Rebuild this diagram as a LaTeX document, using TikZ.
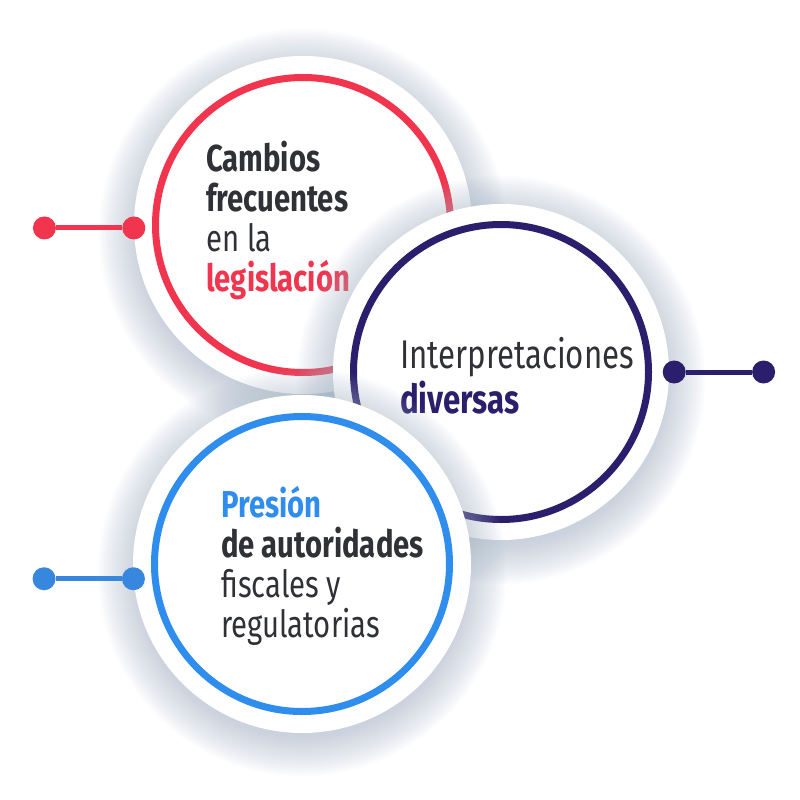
\documentclass[tikz,border=0pt]{standalone}
\usepackage{fontspec}
\setmainfont{Fira Sans}[FakeStretch=0.78]
\usepackage{tikz}
\usetikzlibrary{positioning}
\definecolor{mred}{HTML}{F1354F}
\definecolor{mnavy}{HTML}{2B1E6C}
\definecolor{mblue}{HTML}{2F8DEE}
\definecolor{mbluedot}{HTML}{3887DF}
\definecolor{mtext}{HTML}{2F3137}
\definecolor{mshadow}{HTML}{A9B9CA}
\tikzset{
  disc/.style={circle,fill=white,minimum size=338pt,inner sep=0},
  ring/.style={circle,draw=#1,line width=7pt,minimum size=295pt,inner sep=0},
  dot/.style={circle,fill=#1,minimum size=23pt,inner sep=0},
  link/.style={line width=5pt,draw=#1},
  ctext/.style={anchor=north west,align=left,inner sep=0,text=mtext,
    font=\fontsize{37.5}{40}\selectfont}
}
\newcommand{\discshadow}[1]{%
  \foreach \r in {162,164,...,204}{\fill[mshadow,fill opacity=0.035] #1 circle[radius=\r];}}

\begin{document}
\begin{tikzpicture}[x=1pt,y=-1pt]

  \fill[white] (0,0) rectangle (800,800);
  \useasboundingbox (0,0) rectangle (800,800);

  % Red circle
  \discshadow{(303,233)}
  \node[disc] (redDisc) at (303,225) {};
  \node[ring=mred] (redRing) at (redDisc) {};
  \node[ctext] (redText) at (206,141)
    {\textbf{Cambios}\\\textbf{frecuentes}\\en la\\\textbf{\color{mred}legislación}};
  \node[dot=mred] (redIn) at (redDisc.181) {};
  \node[dot=mred, left=66pt of redIn] (redOut) {};
  \draw[link=mred] (redOut) -- (redIn);

  % Navy circle
  \discshadow{(501,380)}
  \node[disc, minimum size=336pt] (navyDisc) at (501,372) {};
  \node[ring=mnavy] (navyRing) at (navyDisc) {};
  \node[ctext, font=\fontsize{40}{45}\selectfont] (navyText) at (400,337)
    {Interpretaciones\\\textbf{\color{mnavy}diversas}};
  \node[dot=mnavy] (navyIn) at ([xshift=5pt]navyDisc.east) {};
  \node[dot=mnavy, right=66pt of navyIn] (navyOut) {};
  \draw[link=mnavy] (navyIn) -- (navyOut);

  % Blue circle
  \discshadow{(302,572)}
  \node[disc] (blueDisc) at (302,564) {};
  \node[ring=mblue] (blueRing) at (blueDisc) {};
  \node[ctext] (blueText) at (221,486)
    {\textbf{\color{mblue}Presión}\\\textbf{de autoridades}\\fiscales y\\regulatorias};
  \node[dot=mbluedot] (blueIn) at (blueDisc.185) {};
  \node[dot=mbluedot, left=66pt of blueIn] (blueOut) {};
  \draw[link=mbluedot] (blueOut) -- (blueIn);

\end{tikzpicture}
\end{document}
